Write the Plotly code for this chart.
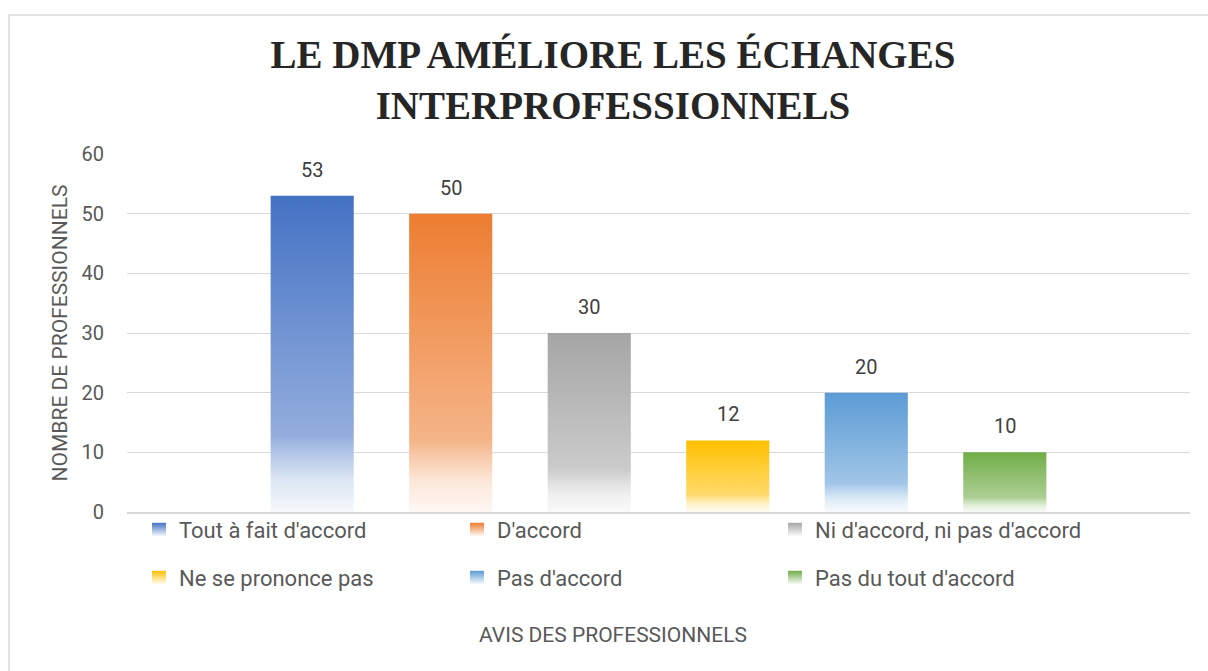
import plotly.graph_objects as go

categories = ["Tout à fait d'accord", "D'accord", "Ni d'accord, ni pas d'accord",
              "Ne se prononce pas", "Pas d'accord", "Pas du tout d'accord"]
values = [53, 50, 30, 12, 20, 10]
colors = ["#4472C4", "#ED7D31", "#A5A5A5", "#FFC000", "#5B9BD5", "#70AD47"]
y_ticks = [0, 10, 20, 30, 40, 50, 60]

TITLE = "LE DMP AMÉLIORE LES ÉCHANGES<br>INTERPROFESSIONNELS"
X_TITLE = "AVIS DES PROFESSIONNELS"
Y_TITLE = "NOMBRE DE PROFESSIONNELS"

W, H = 1208, 671
ML, MR, MT, MB = 127, 18, 154, 159
PW, PH = W - ML - MR, H - MT - MB
BAR_W = 0.6
X_PAD = 1.337

TEXT_FONT = "Roboto"


def tint(hexcol, t):
    r, g, b = int(hexcol[1:3], 16), int(hexcol[3:5], 16), int(hexcol[5:7], 16)
    r = round(255 + (r - 255) * t)
    g = round(255 + (g - 255) * t)
    b = round(255 + (b - 255) * t)
    return f"rgb({r},{g},{b})"


def grad_scale(c):
    return [[0.0, tint(c, 0.05)], [0.10, tint(c, 0.18)], [0.19, tint(c, 0.42)],
            [0.24, tint(c, 0.58)], [1.0, tint(c, 1.0)]]


fig = go.Figure()

for i, (cat, v, c) in enumerate(zip(categories, values, colors)):
    x0, x1 = i - BAR_W / 2, i + BAR_W / 2
    fig.add_trace(go.Scatter(
        x=[x0, x1, x1, x0, x0], y=[0, 0, v, v, 0],
        mode="lines", line=dict(width=0, color=c),
        fill="toself",
        fillgradient=dict(type="vertical", colorscale=grad_scale(c)),
        showlegend=False, hoverinfo="skip", name=cat,
    ))

for i, (cat, c) in enumerate(zip(categories, colors)):
    fig.add_trace(go.Scatter(
        x=[None], y=[None], mode="markers", name=cat,
        marker=dict(symbol="square", size=14, color=c,
                    gradient=dict(type="vertical", color="white"),
                    line=dict(width=0)),
        legend="legend" if i < 3 else "legend2",
    ))

for i, v in enumerate(values):
    fig.add_annotation(x=i, y=v, text=str(v), showarrow=False, yshift=26,
                       yanchor="middle",
                       font=dict(family=TEXT_FONT, size=20, color="#404040"))

fig.add_annotation(xref="paper", yref="paper", x=(613 - ML) / PW, y=(512 - 635) / PH,
                   text=X_TITLE, showarrow=False, xanchor="center", yanchor="middle",
                   font=dict(family=TEXT_FONT, size=21, color="#595959"))

fig.add_shape(type="rect", xref="paper", yref="paper",
              x0=(9 - ML) / PW, x1=1.05, y0=-0.6, y1=(512 - 15) / PH,
              line=dict(color="#D9D9D9", width=1.5), fillcolor="rgba(0,0,0,0)",
              layer="below")

legend_common = dict(orientation="h", xref="paper", yref="paper",
                     xanchor="left", yanchor="middle",
                     entrywidth=273, entrywidthmode="pixels",
                     font=dict(family=TEXT_FONT, size=22, color="#595959"),
                     bgcolor="rgba(0,0,0,0)", itemclick=False, itemdoubleclick=False)

fig.update_layout(
    width=W, height=H,
    margin=dict(l=ML, r=MR, t=MT, b=MB, autoexpand=False),
    paper_bgcolor="white", plot_bgcolor="white",
    title=dict(text=TITLE, x=613 / W, xref="container", xanchor="center",
               y=1 - 68 / H, yref="container", yanchor="middle",
               font=dict(family="Liberation Serif", size=39, color="#262626", weight=700)),
    xaxis=dict(range=[-X_PAD, len(values) - 1 + X_PAD], showticklabels=False,
               showgrid=False, zeroline=False, showline=True,
               linecolor="#D9D9D9", linewidth=1.5, ticks=""),
    yaxis=dict(range=[0, 60], tickvals=y_ticks, showgrid=True, gridcolor="#D9D9D9",
               gridwidth=1, zeroline=False, showline=False, ticks="",
               ticklabelstandoff=22,
               tickfont=dict(family=TEXT_FONT, size=20, color="#595959"),
               title=dict(text=Y_TITLE, standoff=8,
                          font=dict(family=TEXT_FONT, size=21, color="#595959"))),
    legend=dict(x=(139 - ML) / PW, y=(512 - 530) / PH, **legend_common),
    legend2=dict(x=(139 - ML) / PW, y=(512 - 578) / PH, **legend_common),
    showlegend=True,
)

fig.write_html("out.html", config={"displayModeBar": False},
               post_script="document.body.style.margin='0';")
